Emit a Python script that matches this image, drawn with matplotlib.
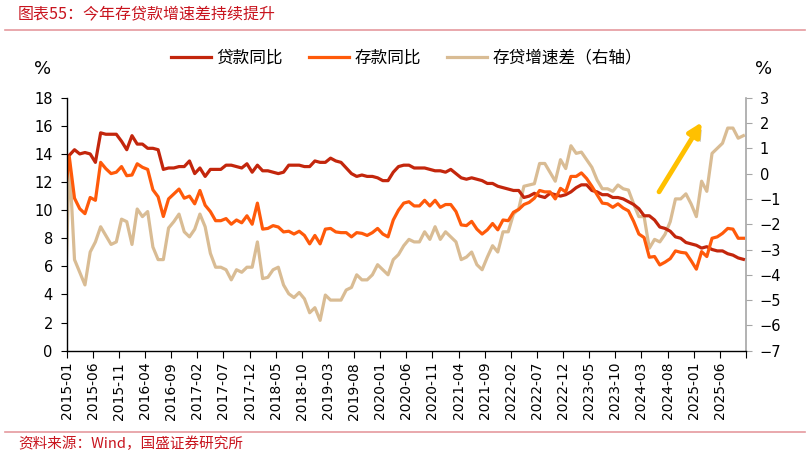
import numpy as np
import matplotlib
matplotlib.use("Agg")
import matplotlib.pyplot as plt
import matplotlib.patheffects as pe

plt.rcParams['font.family'] = ['Noto Sans CJK SC', 'DejaVu Sans']

# 月份：2014-12（只露出一段，被左轴截掉）到 2025-10
months = ["2014-12"] + [f"{y}-{m:02d}" for y in range(2015, 2026) for m in range(1, 13)][:130]

# 贷款同比 (%)
loan = [13.7,
        13.9, 14.3, 14.0, 14.1, 14.0, 13.4, 15.5, 15.4, 15.4, 15.4, 14.9, 14.3,
        15.3, 14.7, 14.7, 14.4, 14.4, 14.3, 12.9, 13.0, 13.0, 13.1, 13.1, 13.5,
        12.6, 13.0, 12.4, 12.9, 12.9, 12.9, 13.2, 13.2, 13.1, 13.0, 13.3, 12.7,
        13.2, 12.8, 12.8, 12.7, 12.6, 12.7, 13.2, 13.2, 13.2, 13.1, 13.1, 13.5,
        13.4, 13.4, 13.7, 13.5, 13.4, 13.0, 12.6, 12.4, 12.5, 12.4, 12.4, 12.3,
        12.1, 12.1, 12.7, 13.1, 13.2, 13.2, 13.0, 13.0, 13.0, 12.9, 12.8, 12.8,
        12.7, 12.9, 12.6, 12.3, 12.2, 12.3, 12.2, 12.1, 11.9, 11.9, 11.7, 11.6,
        11.5, 11.4, 11.4, 10.9, 11.0, 11.2, 11.0, 10.9, 11.2, 11.1, 11.0, 11.1,
        11.3, 11.6, 11.8, 11.8, 11.4, 11.3, 11.1, 11.1, 10.9, 10.9, 10.8, 10.6,
        10.4, 10.1, 9.6, 9.6, 9.3, 8.8, 8.7, 8.5, 8.1, 8.0, 7.7, 7.6,
        7.5, 7.3, 7.4, 7.2, 7.1, 7.1, 6.9, 6.8, 6.6, 6.5]

# 存款同比 (%)
deposit = [10.5,
           13.8, 10.85, 10.1, 9.75, 10.9, 10.7, 13.4, 12.95, 12.6, 12.7, 13.1, 12.45,
           12.5, 13.3, 13.05, 12.9, 11.45, 10.95, 9.55, 10.8, 11.15, 11.5, 10.85, 11.0,
           10.45, 11.4, 10.35, 9.9, 9.25, 9.25, 9.4, 9.0, 9.3, 9.1, 9.6, 9.0,
           10.5, 8.65, 8.7, 8.9, 8.8, 8.45, 8.5, 8.3, 8.5, 8.2, 7.6, 8.2,
           7.6, 8.65, 8.7, 8.45, 8.4, 8.4, 8.1, 8.4, 8.35, 8.2, 8.4, 8.7,
           8.3, 8.1, 9.3, 10.0, 10.5, 10.6, 10.3, 10.3, 10.7, 10.3, 10.7, 10.2,
           10.4, 10.4, 9.9, 8.95, 8.9, 9.2, 8.65, 8.3, 8.6, 9.05, 8.6, 9.3,
           9.25, 9.85, 10.05, 10.4, 10.55, 10.85, 11.4, 11.3, 11.3, 10.8, 11.55, 11.3,
           12.4, 12.4, 12.65, 12.25, 11.7, 11.1, 10.5, 10.45, 10.2, 10.45, 10.15, 9.95,
           9.2, 8.3, 8.05, 6.65, 6.7, 6.1, 6.3, 6.55, 7.1, 7.0, 6.95, 6.4,
           5.8, 7.05, 6.7, 8.0, 8.1, 8.35, 8.7, 8.65, 8.0, 8.0]

# 存贷增速差（右轴, %）
spread = [-6.8,
          0.6, -3.4, -3.9, -4.4, -3.1, -2.7, -2.1, -2.45, -2.8, -2.7, -1.8, -1.9,
          -2.8, -1.4, -1.7, -1.5, -2.9, -3.4, -3.4, -2.15, -1.9, -1.6, -2.3, -2.5,
          -2.2, -1.6, -2.1, -3.15, -3.7, -3.7, -3.8, -4.2, -3.8, -3.9, -3.7, -3.7,
          -2.7, -4.15, -4.1, -3.8, -3.7, -4.4, -4.75, -4.9, -4.7, -4.95, -5.5, -5.3,
          -5.8, -4.8, -5.0, -5.0, -5.0, -4.6, -4.5, -4.0, -4.2, -4.2, -4.0, -3.6,
          -3.8, -4.0, -3.4, -3.2, -2.85, -2.6, -2.7, -2.7, -2.3, -2.6, -2.1, -2.6,
          -2.3, -2.5, -2.7, -3.4, -3.3, -3.1, -3.6, -3.8, -3.3, -2.85, -3.1, -2.3,
          -2.3, -1.6, -1.4, -0.5, -0.45, -0.4, 0.4, 0.4, 0.05, -0.3, 0.55, 0.2,
          1.1, 0.8, 0.85, 0.55, 0.25, -0.25, -0.6, -0.6, -0.7, -0.45, -0.6, -0.65,
          -1.2, -1.7, -1.7, -2.95, -2.6, -2.7, -2.4, -1.9, -1.0, -1.0, -0.8, -1.2,
          -1.7, -0.3, -0.7, 0.8, 1.0, 1.2, 1.8, 1.8, 1.4, 1.5]

c_loan = '#C3260C'
c_dep = '#FF5A0A'
c_spr = '#D9BC94'
c_red = '#C8141E'

x = np.arange(len(months)) - 0.5   # 2015-01 落在 0.5，刻度在月初

fig = plt.figure(figsize=(8.1, 4.57), dpi=100)
ax = fig.add_axes([0.0823, 0.2326, 0.8387, 0.5536])
ax2 = ax.twinx()

l3, = ax2.plot(x, spread, color=c_spr, lw=2.3, label='存贷增速差（右轴）', solid_joinstyle='round')
l1, = ax.plot(x, loan, color=c_loan, lw=2.3, label='贷款同比', solid_joinstyle='round')
l2, = ax.plot(x, deposit, color=c_dep, lw=2.3, label='存款同比', solid_joinstyle='round')
ax.set_zorder(ax2.get_zorder() + 1)
ax.patch.set_visible(False)

ax.set_xlim(0, 130)
ax.set_ylim(0, 18)
ax.set_yticks(np.arange(0, 19, 2))
ax2.set_ylim(-7, 3)
ax2.set_yticks(np.arange(-7, 4, 1))

ticks = np.arange(0, 131, 5)
ax.set_xticks(ticks)
ax.set_xticklabels([months[t + 1] if t + 1 < len(months) and t < 126 else '' for t in ticks],
                   rotation=90, fontsize=10, family='DejaVu Sans')
for lab in ax.get_yticklabels():
    lab.set_family('DejaVu Sans')
    lab.set_fontsize(10.5)
for lab in ax2.get_yticklabels():
    lab.set_family('DejaVu Sans')
    lab.set_fontsize(10.5)

for a in (ax, ax2):
    a.spines['top'].set_visible(False)
ax.spines['right'].set_visible(False)
ax2.spines['left'].set_visible(False)
ax2.spines['bottom'].set_visible(False)
ax2.spines['right'].set_color('#A6A6A6')
ax2.spines['right'].set_linewidth(1.2)
ax.spines['left'].set_linewidth(1.0)
ax.spines['bottom'].set_linewidth(1.0)
ax.tick_params(axis='y', direction='out', length=4, pad=6, colors='black')
ax.tick_params(axis='x', direction='out', length=5, pad=3)
ax2.tick_params(axis='y', direction='out', length=4, pad=6, color='#A6A6A6', labelcolor='black')

# 上升箭头
ax.annotate('', xy=(0.935, 0.903), xytext=(0.872, 0.628),
            xycoords='axes fraction', textcoords='axes fraction',
            arrowprops=dict(arrowstyle='-|>', color='#FFC000', lw=3.5, mutation_scale=20,
                            shrinkA=0, shrinkB=0,
                            path_effects=[pe.SimplePatchShadow(offset=(2, -2), alpha=0.3),
                                          pe.Normal()]))

fig.legend(handles=[l1, l2, l3], loc='center', bbox_to_anchor=(0.502, 0.873), ncol=3,
           frameon=False, fontsize=12, handlelength=2.4, handletextpad=0.3,
           columnspacing=1.6)

fig.text(0.052, 0.85, '%', fontsize=13, family='DejaVu Sans', ha='center', va='center')
fig.text(0.943, 0.85, '%', fontsize=13, family='DejaVu Sans', ha='center', va='center')

# 标题、来源及分隔线
fig.text(0.022, 0.968, '图表55：今年存贷款增速差持续提升', fontsize=11.5, color=c_red,
         ha='left', va='center')
fig.add_artist(plt.Line2D([0.006, 0.994], [0.934, 0.934], color='#E59A9E', lw=1.2))
fig.add_artist(plt.Line2D([0.006, 0.994], [0.055, 0.055], color='#E59A9E', lw=1.2))
fig.text(0.022, 0.028, '资料来源：Wind，国盛证券研究所', fontsize=10.5, color=c_red,
         ha='left', va='center')

fig.savefig('out.png', dpi=100)
